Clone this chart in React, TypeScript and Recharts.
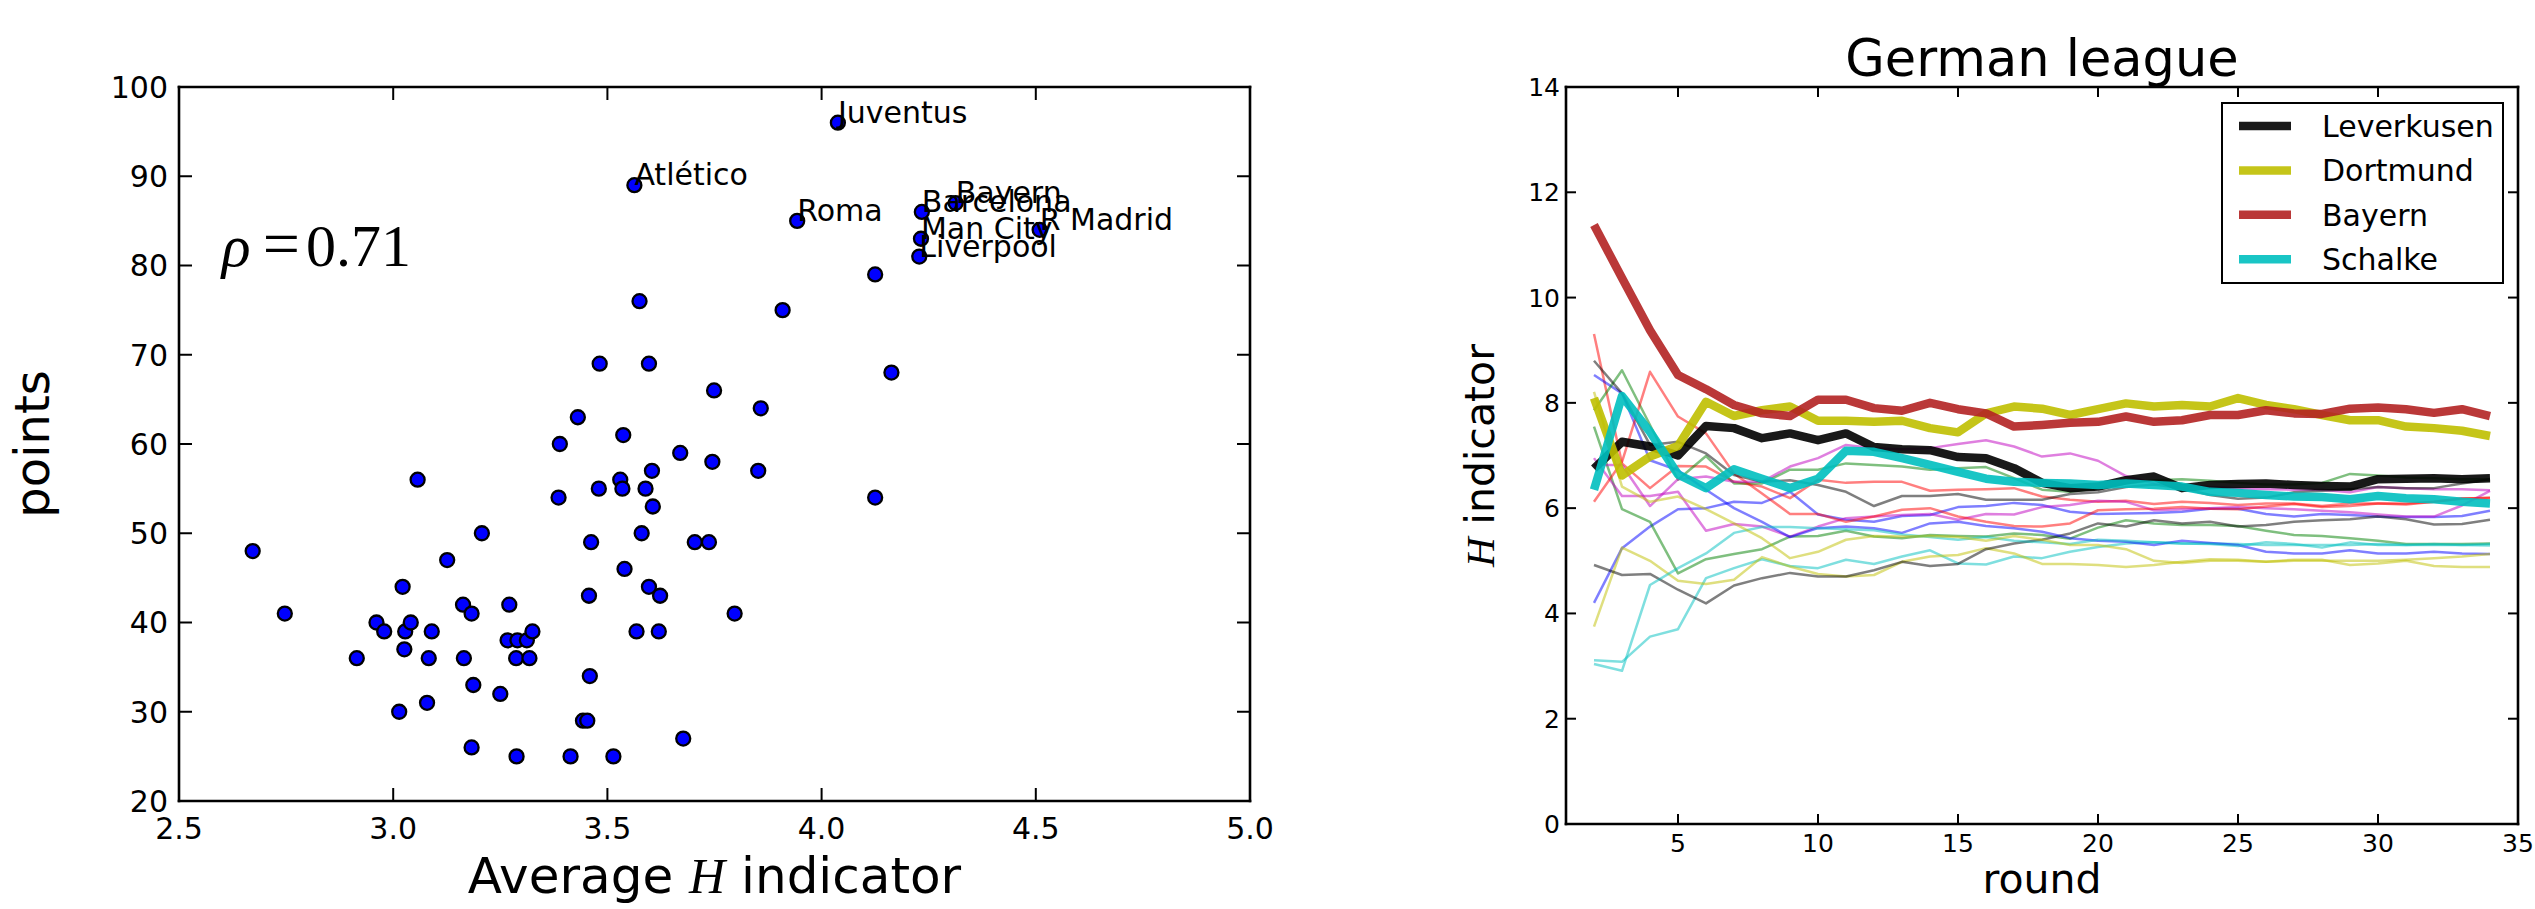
import React from 'react';
import { ScatterChart, Scatter, LineChart, Line, XAxis, YAxis, ReferenceDot, Legend } from 'recharts';

const SANS = '"DejaVu Sans", "Bitstream Vera Sans", sans-serif';
const SERIF = '"Liberation Serif", "DejaVu Serif", serif';

// ---------------- Left panel: points vs average H indicator ----------------
const otherH = [2.672, 2.747, 2.915, 2.961, 2.979, 3.014, 3.022, 3.028, 3.026, 3.041, 3.057, 3.079, 3.083, 3.09, 3.126, 3.163, 3.165, 3.183, 3.187, 3.183, 3.207, 3.25, 3.271, 3.267, 3.29, 3.287, 3.288, 3.312, 3.318, 3.325, 3.386, 3.389, 3.414, 3.431, 3.443, 3.453, 3.457, 3.459, 3.462, 3.48, 3.482, 3.514, 3.53, 3.535, 3.537, 3.54, 3.568, 3.575, 3.58, 3.589, 3.597, 3.597, 3.604, 3.606, 3.62, 3.623, 3.67, 3.677, 3.704, 3.737, 3.745, 3.749, 3.797, 3.852, 3.858, 3.909, 4.125, 4.125, 4.163];
const otherPoints = [48, 41, 36, 40, 39, 30, 44, 39, 37, 40, 56, 31, 36, 39, 47, 42, 36, 41, 33, 26, 50, 32, 42, 38, 38, 36, 25, 38, 36, 39, 54, 60, 25, 63, 29, 29, 43, 34, 49, 55, 69, 25, 56, 55, 61, 46, 39, 76, 50, 55, 69, 44, 57, 53, 39, 43, 59, 27, 49, 49, 58, 66, 41, 57, 64, 75, 79, 54, 68];
const teamNames = ['Juventus', 'Atlético', 'Roma', 'Barcelona', 'Bayern', 'R Madrid', 'Man City', 'Liverpool'];
const teamH = [4.038, 3.563, 3.943, 4.234, 4.313, 4.509, 4.232, 4.228];
const teamPoints = [96, 89, 85, 86, 87, 84, 83, 81];
const leftXTicks = [2.5, 3.0, 3.5, 4.0, 4.5, 5.0];
const leftYTicks = [20, 30, 40, 50, 60, 70, 80, 90, 100];
const rhoAnchor = { x: 2.6, y: 80, value: '0.71' };

// ---------------- Right panel: German league H indicator per round ----------------
const rounds = [2, 3, 4, 5, 6, 7, 8, 9, 10, 11, 12, 13, 14, 15, 16, 17, 18, 19, 20, 21, 22, 23, 24, 25, 26, 27, 28, 29, 30, 31, 32, 33, 34];
const leverkusen = [6.75, 7.26, 7.17, 7.0, 7.56, 7.52, 7.33, 7.42, 7.29, 7.42, 7.16, 7.12, 7.1, 6.97, 6.95, 6.76, 6.48, 6.38, 6.41, 6.53, 6.6, 6.38, 6.44, 6.46, 6.47, 6.44, 6.42, 6.41, 6.55, 6.56, 6.57, 6.55, 6.57];
const dortmund = [8.09, 6.62, 6.98, 7.18, 8.02, 7.75, 7.86, 7.93, 7.66, 7.66, 7.64, 7.66, 7.52, 7.44, 7.8, 7.93, 7.89, 7.77, 7.88, 7.99, 7.93, 7.96, 7.93, 8.09, 7.96, 7.88, 7.77, 7.67, 7.67, 7.55, 7.52, 7.47, 7.37];
const bayern = [11.38, 10.37, 9.38, 8.53, 8.26, 7.96, 7.8, 7.75, 8.06, 8.06, 7.9, 7.85, 8.0, 7.88, 7.8, 7.55, 7.58, 7.62, 7.64, 7.74, 7.64, 7.67, 7.77, 7.77, 7.86, 7.8, 7.79, 7.89, 7.91, 7.88, 7.81, 7.88, 7.75];
const schalke = [6.35, 8.13, 7.45, 6.64, 6.38, 6.74, 6.56, 6.38, 6.56, 7.09, 7.07, 6.95, 6.82, 6.69, 6.56, 6.5, 6.48, 6.47, 6.44, 6.47, 6.44, 6.41, 6.31, 6.29, 6.25, 6.22, 6.21, 6.17, 6.23, 6.19, 6.17, 6.12, 6.09];

const otherBlue1 = [4.2, 5.24, 5.65, 5.98, 6.0, 6.12, 6.1, 6.31, 5.88, 5.78, 5.74, 5.85, 5.87, 6.02, 6.04, 6.1, 6.06, 5.93, 5.89, 5.9, 5.91, 5.93, 5.99, 5.99, 5.89, 5.84, 5.89, 5.87, 5.84, 5.83, 5.83, 5.85, 5.95];
const otherGreen1 = [7.55, 5.98, 5.74, 4.76, 5.03, 5.13, 5.22, 5.46, 5.47, 5.57, 5.46, 5.43, 5.49, 5.47, 5.46, 5.52, 5.49, 5.42, 5.63, 5.77, 5.71, 5.68, 5.68, 5.66, 5.57, 5.49, 5.47, 5.43, 5.38, 5.32, 5.32, 5.32, 5.33];
const otherRed1 = [9.31, 6.85, 6.38, 6.8, 6.79, 6.5, 6.41, 6.19, 6.54, 6.48, 6.5, 6.5, 6.33, 6.35, 6.36, 6.38, 6.22, 6.16, 6.12, 6.14, 6.08, 6.12, 6.1, 6.06, 6.09, 6.09, 6.04, 6.09, 6.09, 6.07, 6.12, 6.19, 6.19];
const otherCyan1 = [3.11, 3.08, 3.56, 3.7, 4.67, 4.86, 5.03, 4.9, 4.86, 5.02, 4.94, 5.08, 5.2, 4.95, 4.93, 5.08, 5.05, 5.17, 5.26, 5.33, 5.35, 5.33, 5.33, 5.32, 5.3, 5.3, 5.3, 5.3, 5.32, 5.3, 5.3, 5.3, 5.29];
const otherMagenta1 = [6.95, 6.23, 6.23, 6.31, 5.57, 5.7, 5.65, 5.46, 5.65, 5.81, 5.84, 5.87, 5.89, 5.78, 5.89, 5.88, 6.02, 6.06, 6.14, 6.12, 5.96, 5.98, 6.0, 6.02, 6.0, 5.98, 5.95, 5.92, 5.88, 5.84, 5.84, 6.05, 6.33];
const otherYellow1 = [3.75, 5.25, 5.0, 4.62, 4.56, 4.64, 5.07, 4.89, 4.75, 4.7, 4.73, 4.98, 5.08, 5.11, 5.24, 5.14, 4.94, 4.94, 4.92, 4.88, 4.92, 4.98, 5.03, 5.02, 4.98, 5.02, 5.02, 4.92, 4.95, 5.0, 4.9, 4.88, 4.88];
const otherBlack1 = [4.92, 4.73, 4.75, 4.45, 4.19, 4.53, 4.67, 4.77, 4.7, 4.7, 4.82, 4.98, 4.9, 4.94, 5.22, 5.33, 5.4, 5.52, 5.71, 5.65, 5.77, 5.71, 5.74, 5.65, 5.68, 5.74, 5.77, 5.79, 5.84, 5.79, 5.69, 5.7, 5.78];
const otherBlue2 = [8.53, 8.18, 6.91, 6.72, 6.35, 6.0, 5.74, 5.45, 5.62, 5.65, 5.62, 5.53, 5.71, 5.74, 5.66, 5.62, 5.55, 5.43, 5.38, 5.36, 5.3, 5.38, 5.34, 5.3, 5.17, 5.14, 5.14, 5.2, 5.14, 5.14, 5.17, 5.14, 5.13];
const otherGreen2 = [7.86, 8.62, 7.58, 6.54, 6.99, 6.47, 6.47, 6.73, 6.73, 6.85, 6.82, 6.79, 6.73, 6.76, 6.78, 6.57, 6.35, 6.31, 6.38, 6.47, 6.53, 6.55, 6.52, 6.48, 6.45, 6.45, 6.48, 6.65, 6.62, 6.58, 6.57, 6.55, 6.55];
const otherRed2 = [6.12, 6.88, 8.59, 7.74, 7.42, 6.66, 6.28, 5.89, 5.89, 5.74, 5.84, 5.97, 6.0, 5.84, 5.74, 5.66, 5.65, 5.71, 5.96, 5.98, 5.99, 6.02, 5.99, 5.98, 6.03, 6.08, 6.02, 6.04, 6.09, 6.09, 6.12, 6.18, 6.2];
const otherCyan2 = [3.04, 2.91, 4.54, 4.86, 5.14, 5.53, 5.64, 5.64, 5.62, 5.6, 5.58, 5.5, 5.45, 5.4, 5.45, 5.38, 5.35, 5.32, 5.4, 5.38, 5.35, 5.33, 5.32, 5.28, 5.35, 5.32, 5.25, 5.35, 5.3, 5.3, 5.32, 5.3, 5.32];
const otherMagenta2 = [6.82, 6.82, 6.04, 6.55, 6.6, 6.5, 6.5, 6.79, 6.95, 7.2, 7.14, 7.12, 7.14, 7.22, 7.29, 7.17, 6.98, 7.04, 6.9, 6.61, 6.47, 6.44, 6.4, 6.38, 6.36, 6.35, 6.35, 6.3, 6.4, 6.38, 6.36, 6.36, 6.34];
const otherYellow2 = [8.21, 6.41, 6.12, 6.22, 5.98, 5.71, 5.43, 5.05, 5.17, 5.4, 5.47, 5.46, 5.47, 5.45, 5.38, 5.47, 5.4, 5.3, 5.3, 5.22, 5.0, 4.96, 5.0, 5.0, 4.98, 5.0, 5.0, 5.0, 5.0, 5.02, 5.05, 5.08, 5.13];
const otherBlack2 = [8.8, 8.18, 7.2, 7.26, 7.04, 6.63, 6.5, 6.53, 6.44, 6.31, 6.04, 6.23, 6.23, 6.27, 6.16, 6.16, 6.16, 6.27, 6.3, 6.4, 6.45, 6.38, 6.25, 6.18, 6.2, 6.3, 6.33, 6.36, 6.4, 6.38, 6.38, 6.47, 6.55];

const rightXTicks = [5, 10, 15, 20, 25, 30, 35];
const rightYTicks = [0, 2, 4, 6, 8, 10, 12, 14];

const thinSeries = [
  { key: 'other1', color: '#0000ff', values: otherBlue1 },
  { key: 'other2', color: '#008000', values: otherGreen1 },
  { key: 'other3', color: '#ff0000', values: otherRed1 },
  { key: 'other4', color: '#00bfbf', values: otherCyan1 },
  { key: 'other5', color: '#bf00bf', values: otherMagenta1 },
  { key: 'other6', color: '#bfbf00', values: otherYellow1 },
  { key: 'other7', color: '#000000', values: otherBlack1 },
  { key: 'other8', color: '#0000ff', values: otherBlue2 },
  { key: 'other9', color: '#008000', values: otherGreen2 },
  { key: 'other10', color: '#ff0000', values: otherRed2 },
  { key: 'other11', color: '#00bfbf', values: otherCyan2 },
  { key: 'other12', color: '#bf00bf', values: otherMagenta2 },
  { key: 'other13', color: '#bfbf00', values: otherYellow2 },
  { key: 'other14', color: '#000000', values: otherBlack2 },
];
const highlighted = [
  { key: 'Leverkusen', color: '#000000', values: leverkusen },
  { key: 'Dortmund', color: '#bfbf00', values: dortmund },
  { key: 'Bayern', color: '#b22222', values: bayern },
  { key: 'Schalke', color: '#00bfbf', values: schalke },
];

// ---------------- Built data ----------------
const scatterData = otherH
  .map((h, i) => ({ x: h, y: otherPoints[i] }))
  .concat(teamH.map((h, i) => ({ x: h, y: teamPoints[i] })));
const labelData = teamH.map((h, i) => ({ x: h, y: teamPoints[i], name: teamNames[i] }));

const lineData = rounds.map((r, i) => {
  const row: any = { round: r };
  thinSeries.forEach((s) => { row[s.key] = s.values[i]; });
  highlighted.forEach((s) => { row[s.key] = s.values[i]; });
  return row;
});

// ---------------- Helpers ----------------
type Side = 'bottom' | 'top' | 'left' | 'right';
function tickRenderer(side: Side, len: number, fontSize: number, gap: number, fmt?: (v: number) => string) {
  return (props: any) => {
    const x = Number(props.x);
    const y = Number(props.y);
    const v = props.payload ? props.payload.value : 0;
    const common = { stroke: '#000', strokeWidth: 2 };
    let line: any = null;
    let label: any = null;
    if (side === 'bottom') {
      line = <line x1={x} y1={y} x2={x} y2={y - len} {...common} />;
      if (fmt) label = <text x={x} y={y + gap} textAnchor="middle" fontSize={fontSize} fontFamily={SANS} fill="#000">{fmt(v)}</text>;
    } else if (side === 'top') {
      line = <line x1={x} y1={y} x2={x} y2={y + len} {...common} />;
    } else if (side === 'left') {
      line = <line x1={x} y1={y} x2={x + len} y2={y} {...common} />;
      if (fmt) label = <text x={x - gap} y={y} dy="0.36em" textAnchor="end" fontSize={fontSize} fontFamily={SANS} fill="#000">{fmt(v)}</text>;
    } else {
      line = <line x1={x} y1={y} x2={x - len} y2={y} {...common} />;
    }
    return <g>{line}{label}</g>;
  };
}

const spine = { stroke: '#000', strokeWidth: 2.6, strokeLinecap: 'square' as const };

const Marker = (p: any) => (
  <circle cx={p.cx} cy={p.cy} r={7} fill="#0000ff" stroke="#000" strokeWidth={2.3} />
);
const TeamLabel = (p: any) => (
  <text x={p.cx} y={p.cy} fontSize={30} fontFamily={SANS} fill="#000">{p.payload && p.payload.name}</text>
);
const RhoText = (p: any) => (
  <text x={p.cx} y={p.cy} fontSize={60} fontFamily={SERIF} fill="#000">
    <tspan fontStyle="italic">ρ</tspan>
    <tspan dx={12} fontSize={66}>=</tspan>
    <tspan dx={6}>{rhoAnchor.value}</tspan>
  </text>
);

const LegendBox = () => (
  <svg width={284} height={184} style={{ display: 'block' }}>
    <rect x={1} y={1} width={281} height={180} fill="#fff" stroke="#000" strokeWidth={2} />
    {highlighted.map((s, i) => {
      const cy = 24 + i * 44.4;
      return (
        <g key={s.key}>
          <line x1={18} x2={70} y1={cy} y2={cy} stroke={s.color} strokeOpacity={0.9} strokeWidth={8.5} />
          <text x={101} y={cy + 11} fontSize={30} fontFamily={SANS} fill="#000">{s.key}</text>
        </g>
      );
    })}
  </svg>
);

export default function App() {
  return (
    <div style={{ position: 'absolute', left: 0, top: 0, width: 2535, height: 909, background: '#fff', overflow: 'hidden' }}>
      <div style={{ position: 'absolute', left: 0, top: 0 }}>
        <ScatterChart width={1300} height={909} margin={{ top: 86, right: 49, bottom: 0, left: 0 }}>
          <XAxis
            type="number"
            dataKey="x"
            domain={[2.5, 5]}
            ticks={leftXTicks}
            interval={0}
            allowDataOverflow
            height={108}
            tickSize={0}
            tickMargin={0}
            axisLine={spine}
            tickLine={false}
            tick={tickRenderer('bottom', 13, 30, 38, (v) => v.toFixed(1))}
            label={(p: any) => {
              const vb = p.viewBox || { x: 179, y: 801, width: 1071 };
              return (
                <text x={vb.x + vb.width / 2} y={893} textAnchor="middle" fontSize={50} fontFamily={SANS} fill="#000">
                  <tspan>Average </tspan>
                  <tspan fontFamily={SERIF} fontStyle="italic">H</tspan>
                  <tspan> indicator</tspan>
                </text>
              );
            }}
          />
          <XAxis
            xAxisId="top"
            orientation="top"
            type="number"
            dataKey="x"
            domain={[2.5, 5]}
            ticks={leftXTicks}
            interval={0}
            allowDataOverflow
            height={1}
            tickSize={0}
            tickMargin={0}
            axisLine={spine}
            tickLine={false}
            tick={tickRenderer('top', 13, 30, 0)}
          />
          <YAxis
            type="number"
            dataKey="y"
            domain={[20, 100]}
            ticks={leftYTicks}
            interval={0}
            allowDataOverflow
            width={179}
            tickSize={0}
            tickMargin={0}
            axisLine={spine}
            tickLine={false}
            tick={tickRenderer('left', 13, 30, 11, (v) => String(v))}
            label={(p: any) => {
              const vb = p.viewBox || { y: 87, height: 714 };
              const cx = 49;
              const cy = vb.y + vb.height / 2;
              return (
                <text x={cx} y={cy} transform={`rotate(-90 ${cx} ${cy})`} textAnchor="middle" fontSize={48} fontFamily={SANS} fill="#000">points</text>
              );
            }}
          />
          <YAxis
            yAxisId="right"
            orientation="right"
            type="number"
            dataKey="y"
            domain={[20, 100]}
            ticks={leftYTicks}
            interval={0}
            allowDataOverflow
            width={1}
            tickSize={0}
            tickMargin={0}
            axisLine={spine}
            tickLine={false}
            tick={tickRenderer('right', 13, 30, 0)}
          />
          <Scatter data={scatterData} shape={Marker} isAnimationActive={false} />
          <Scatter data={labelData} xAxisId="top" yAxisId="right" shape={TeamLabel} isAnimationActive={false} />
          <ReferenceDot x={rhoAnchor.x} y={rhoAnchor.y} r={0} shape={RhoText} ifOverflow="visible" />
        </ScatterChart>
      </div>

      <div style={{ position: 'absolute', left: 1400, top: 0 }}>
        <LineChart width={1135} height={909} data={lineData} margin={{ top: 86, right: 16, bottom: 0, left: 0 }}>
          <XAxis
            type="number"
            dataKey="round"
            domain={[1, 35]}
            ticks={rightXTicks}
            interval={0}
            allowDataOverflow
            height={85}
            tickSize={0}
            tickMargin={0}
            axisLine={spine}
            tickLine={false}
            tick={tickRenderer('bottom', 10, 25, 28, (v) => String(v))}
            label={(p: any) => {
              const vb = p.viewBox || { x: 166, width: 952 };
              return (
                <text x={vb.x + vb.width / 2} y={893} textAnchor="middle" fontSize={41} fontFamily={SANS} fill="#000">round</text>
              );
            }}
          />
          <XAxis
            xAxisId="top"
            orientation="top"
            type="number"
            dataKey="round"
            domain={[1, 35]}
            ticks={rightXTicks}
            interval={0}
            allowDataOverflow
            height={1}
            tickSize={0}
            tickMargin={0}
            axisLine={spine}
            tickLine={false}
            tick={tickRenderer('top', 10, 25, 0)}
            label={(p: any) => {
              const vb = p.viewBox || { x: 166, y: 86, width: 952 };
              return (
                <text x={vb.x + vb.width / 2} y={76} textAnchor="middle" fontSize={51} fontFamily={SANS} fill="#000">German league</text>
              );
            }}
          />
          <YAxis
            type="number"
            domain={[0, 14]}
            ticks={rightYTicks}
            interval={0}
            allowDataOverflow
            width={166}
            tickSize={0}
            tickMargin={0}
            axisLine={spine}
            tickLine={false}
            tick={tickRenderer('left', 10, 25, 6, (v) => String(v))}
            label={(p: any) => {
              const vb = p.viewBox || { y: 87, height: 737 };
              const cx = 94;
              const cy = vb.y + vb.height / 2;
              return (
                <text x={cx} y={cy} transform={`rotate(-90 ${cx} ${cy})`} textAnchor="middle" fontSize={41} fontFamily={SANS} fill="#000">
                  <tspan fontFamily={SERIF} fontStyle="italic">H</tspan>
                  <tspan> indicator</tspan>
                </text>
              );
            }}
          />
          <YAxis
            yAxisId="right"
            orientation="right"
            type="number"
            domain={[0, 14]}
            ticks={rightYTicks}
            interval={0}
            allowDataOverflow
            width={1}
            tickSize={0}
            tickMargin={0}
            axisLine={spine}
            tickLine={false}
            tick={tickRenderer('right', 10, 25, 0)}
          />
          {thinSeries.map((s) => (
            <Line
              key={s.key}
              dataKey={s.key}
              type="linear"
              stroke={s.color}
              strokeOpacity={0.5}
              strokeWidth={2.5}
              strokeLinejoin="round"
              dot={false}
              activeDot={false}
              legendType="none"
              isAnimationActive={false}
            />
          ))}
          {highlighted.map((s) => (
            <Line
              key={s.key}
              dataKey={s.key}
              name={s.key}
              xAxisId="top"
              yAxisId="right"
              type="linear"
              stroke={s.color}
              strokeOpacity={0.9}
              strokeWidth={8.5}
              strokeLinejoin="round"
              dot={false}
              activeDot={false}
              isAnimationActive={false}
            />
          ))}
          <Legend
            layout="vertical"
            align="center"
            verticalAlign="middle"
            content={LegendBox}
            wrapperStyle={{ left: 821, top: 102, width: 284, height: 184 }}
          />
        </LineChart>
      </div>
    </div>
  );
}
